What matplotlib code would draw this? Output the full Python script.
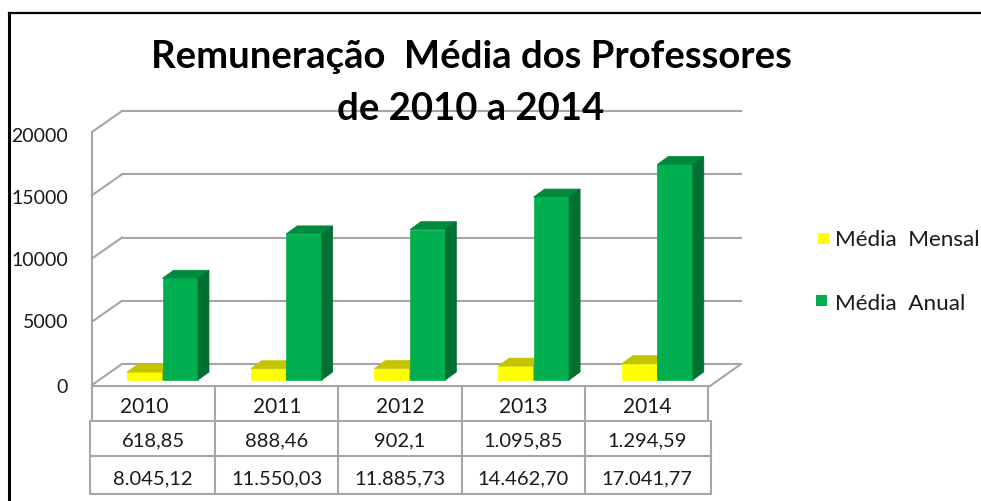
import matplotlib
matplotlib.use("Agg")
import matplotlib.pyplot as plt
from matplotlib.patches import Polygon, Rectangle

plt.rcParams["font.family"] = ["Lato", "DejaVu Sans"]

# dados
anos = ["2010", "2011", "2012", "2013", "2014"]
media_mensal = [618.85, 888.46, 902.10, 1095.85, 1294.59]
media_anual = [8045.12, 11550.03, 11885.73, 14462.70, 17041.77]
mensal_txt = ["618,85", "888,46", "902,1", "1.095,85", "1.294,59"]
anual_txt = ["8.045,12", "11.550,03", "11.885,73", "14.462,70", "17.041,77"]
y_ticks = [0, 5000, 10000, 15000, 20000]
y_labels = ["0", "5000", "10000", "15000", "20000"]

W, H = 981, 502
PX_CAT = 123.7     # pixels por categoria
PX_VAL = 0.01265   # pixels por unidade
X0, Y0 = 92, 381   # onde fica x=0 / valor 0

fig = plt.figure(figsize=(W / 100, H / 100), dpi=100)
fig.patch.set_facecolor("white")

# eixo em pixels para moldura, tabela, titulo e legenda
pix = fig.add_axes([0, 0, 1, 1], zorder=3)
pix.set_xlim(0, W)
pix.set_ylim(H, 0)
pix.axis("off")
pix.patch.set_alpha(0)

# eixo dos dados, as barras saem daqui
ax = fig.add_axes([0, 0, 1, 1], zorder=1)
ax.set_xlim(-X0 / PX_CAT, (W - X0) / PX_CAT)
ax.set_ylim((Y0 - H) / PX_VAL, Y0 / PX_VAL)
ax.axis("off")


def dx(p):
    return p / PX_CAT


def dy(p):
    return p / PX_VAL


GRID = "#a6a6a6"

# paredes e grade
for v in y_ticks:
    ax.plot([0, dx(30)], [v - dy(5), v + dy(16)], color=GRID, lw=1.5, zorder=1)
    ax.plot([dx(30), dx(649)], [v + dy(16), v + dy(16)], color=GRID, lw=1.5, zorder=1)
ax.plot([0, 0], [-dy(6), 20000 - dy(5)], color=GRID, lw=1.5, zorder=1)
ax.plot([0, dx(618)], [-dy(6), -dy(6)], color=GRID, lw=1.5, zorder=1)
ax.plot([dx(618), dx(649)], [-dy(6), dy(16)], color=GRID, lw=1.5, zorder=1)

# barras com falsa profundidade
larg = dx(35.5)
prof_x, prof_y = dx(11), dy(8)
pos_mensal = [i + dx(35) + larg / 2 for i in range(len(anos))]
pos_anual = [i + dx(35) + larg * 1.5 for i in range(len(anos))]


def barra_3d(x, v, frente, topo, lado, z):
    ax.bar(x, v, width=larg, color=frente, edgecolor=frente, lw=0.5, zorder=z)
    e, d = x - larg / 2, x + larg / 2
    ax.add_patch(Polygon([(e, v), (e + prof_x, v + prof_y), (d + prof_x, v + prof_y), (d, v)],
                         facecolor=topo, edgecolor=topo, lw=0.5, zorder=z))
    ax.add_patch(Polygon([(d, 0), (d + prof_x, prof_y), (d + prof_x, v + prof_y), (d, v)],
                         facecolor=lado, edgecolor=lado, lw=0.5, zorder=z))


for i in range(len(anos)):
    barra_3d(pos_mensal[i], media_mensal[i], "#ffff00", "#c4c400", "#a8a800", 3 + i * 2)
    barra_3d(pos_anual[i], media_anual[i], "#00b050", "#008a3e", "#007033", 4 + i * 2)

# rotulos do eixo y
TXT = "#1a1a1a"
for lab, yp in zip(y_labels, [388, 323, 261, 199, 137]):
    pix.text(68, yp, lab, ha="right", va="center", fontsize=14, color=TXT)

# moldura preta
pix.plot([9, 9], [14, H], color="black", lw=2.2)
pix.plot([9, W], [14, 14], color="black", lw=1.6)

# titulo
pix.text(471, 57, "Remuneração  Média dos Professores", ha="center", va="center",
         fontsize=27.5, fontweight="bold", color="black")
pix.text(471, 109, "de 2010 a 2014", ha="center", va="center",
         fontsize=27.5, fontweight="bold", color="black")

# tabela
cols = [215, 338, 462, 585]
pix.plot([92, 92], [387, 422], color=GRID, lw=1.5)
pix.plot([708, 708], [387, 422], color=GRID, lw=1.5)
pix.plot([90, 90, 711, 711, 90], [422, 495, 495, 422, 422], color=GRID, lw=1.5)
pix.plot([90, 711], [457, 457], color=GRID, lw=1.5)
for c in cols:
    pix.plot([c, c], [387, 495], color=GRID, lw=1.5)

centros = [144, 277, 400, 523, 647]
centros2 = [153, 277, 400, 523, 647]
for i in range(len(anos)):
    pix.text(centros[i], 407, anos[i], ha="center", va="center", fontsize=15, color=TXT)
    pix.text(centros2[i], 441, mensal_txt[i], ha="center", va="center", fontsize=14.5, color=TXT)
    pix.text(centros2[i], 479, anual_txt[i], ha="center", va="center", fontsize=14.5, color=TXT)

# legenda
pix.add_patch(Rectangle((818, 234), 11, 11, facecolor="#ffff00", edgecolor="none"))
pix.add_patch(Rectangle((816, 296), 11, 11, facecolor="#00b050", edgecolor="none"))
pix.text(835, 240, "Média  Mensal", va="center", fontsize=16.2, color=TXT)
pix.text(835, 304, "Média  Anual", va="center", fontsize=16.2, color=TXT)

fig.savefig("out.png", dpi=100)
